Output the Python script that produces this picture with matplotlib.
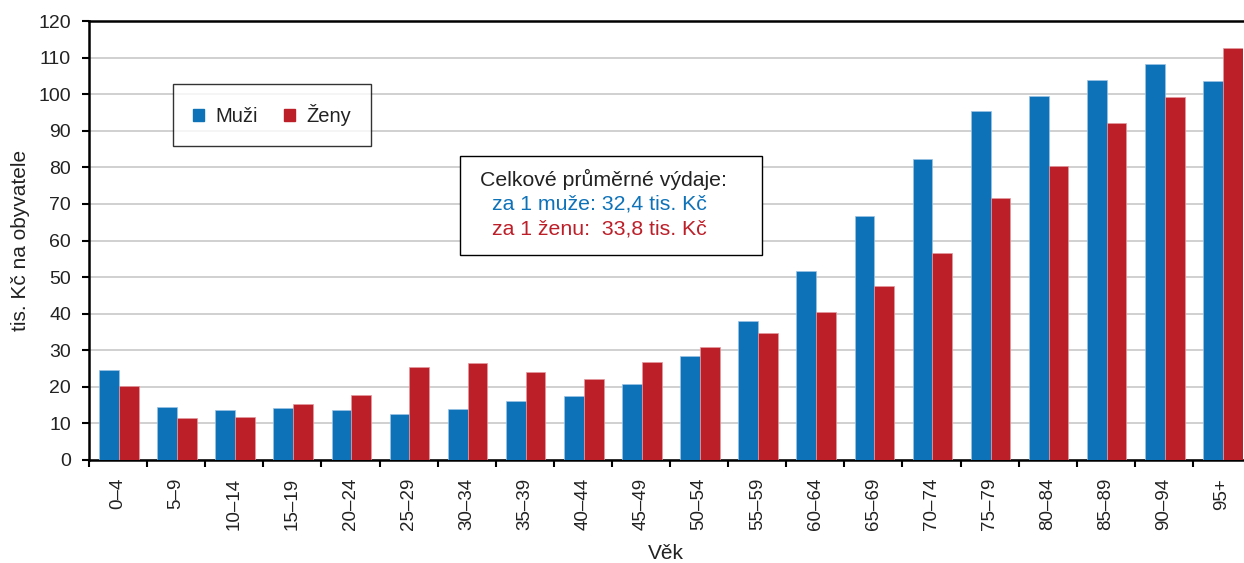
import numpy as np
import matplotlib.pyplot as plt
from matplotlib.patches import Patch, Rectangle

plt.rcParams['font.family'] = ['Liberation Sans', 'DejaVu Sans']

# data :
ages = ["0–4", "5–9", "10–14", "15–19", "20–24", "25–29", "30–34", "35–39",
        "40–44", "45–49", "50–54", "55–59", "60–64", "65–69", "70–74",
        "75–79", "80–84", "85–89", "90–94", "95+"]
muzi = [24.6, 14.5, 13.7, 14.1, 13.6, 12.7, 14.0, 16.1, 17.6, 20.7,
        28.4, 38.0, 51.6, 66.7, 82.2, 95.4, 99.5, 104.0, 108.2, 103.6]
zeny = [20.3, 11.6, 11.8, 15.3, 17.8, 25.3, 26.6, 24.0, 22.2, 26.7,
        31.0, 34.6, 40.5, 47.6, 56.5, 71.5, 80.3, 92.0, 99.1, 112.5]

blue = "#0e72b9"
red = "#bd1f29"
txt = "#222222"

fig = plt.figure(figsize=(12.44, 5.63), dpi=100)
ax = fig.add_axes([89 / 1244, 103 / 563, 1154 / 1244, 439 / 563])

# bars :
x = np.arange(len(ages))
w = 0.34
ax.bar(x - w / 2 + 0.015, muzi, w, color=blue, edgecolor="#9cc3e4", linewidth=0.5, zorder=3)
ax.bar(x + w / 2 + 0.015, zeny, w, color=red, edgecolor="#e49a9f", linewidth=0.5, zorder=3)

# axes :
ax.set_xlim(-0.5, 19.36)
ax.set_ylim(0, 120)
ax.set_yticks(np.arange(0, 121, 10))
ax.set_xticks(x - 0.5, minor=False)
ax.set_xticklabels([])
ax.set_xticks(x, minor=True)
ax.set_xticklabels(ages, minor=True, rotation=90, va="top", ha="center", fontsize=13.5, color=txt)
ax.tick_params(axis="x", which="minor", length=0, pad=13)
ax.tick_params(axis="x", which="major", direction="out", length=5, width=1.5, color="k")
ax.tick_params(axis="y", direction="out", length=5, width=1.5, color="k", labelsize=14,
               labelcolor=txt, pad=8)
ax.grid(axis="y", color="#c8c8c8", linewidth=1.2, zorder=0)
ax.set_axisbelow(True)
for s in ["left", "bottom", "top"]:
    ax.spines[s].set_linewidth(1.8)
    ax.spines[s].set_color("k")
ax.spines["right"].set_visible(False)

ax.set_ylabel("tis. Kč na obyvatele", fontsize=15, color=txt, labelpad=6)
ax.set_xlabel("Věk", fontsize=15, color=txt, labelpad=10)

# legend :
handles = [Patch(color=blue, label="Muži"), Patch(color=red, label="Ženy")]
leg = ax.legend(handles=handles, ncol=2, loc="upper left", bbox_to_anchor=(0.0728, 0.856),
                fontsize=14.5, frameon=True, fancybox=False, handlelength=0.55,
                handleheight=0.55, handletextpad=0.55, columnspacing=1.3,
                borderpad=1.0, borderaxespad=0)
leg.get_frame().set_edgecolor("k")
leg.get_frame().set_linewidth(1.0)
for t in leg.get_texts():
    t.set_color(txt)

# info box :
ax.add_patch(Rectangle((0.3215, 0.467), 0.2615, 0.2255, transform=ax.transAxes,
                       facecolor="white", edgecolor="k", linewidth=1.0, zorder=5))
ax.text(0.339, 0.640, "Celkové průměrné výdaje:", transform=ax.transAxes,
        fontsize=15.3, color=txt, va="center", zorder=6)
ax.text(0.349, 0.583, "za 1 muže: 32,4 tis. Kč", transform=ax.transAxes,
        fontsize=15.3, color=blue, va="center", zorder=6)
ax.text(0.349, 0.526, "za 1 ženu:  33,8 tis. Kč", transform=ax.transAxes,
        fontsize=15.3, color=red, va="center", zorder=6)

fig.savefig("out.png", dpi=100)
